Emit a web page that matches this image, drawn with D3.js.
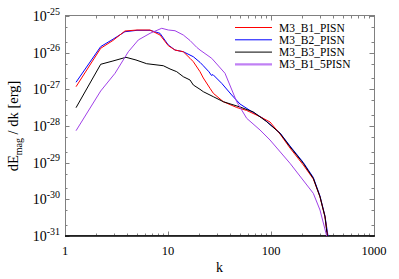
<!DOCTYPE html>
<html><head><meta charset="utf-8">
<script src="https://cdn.jsdelivr.net/npm/d3@7"></script>
<style>body{margin:0;background:#fff}svg{display:block}</style>
</head><body>
<svg id="c" width="399" height="279"></svg>
<script>
// ---- data ----
const seriesNames = ["M3_B1_PISN", "M3_B2_PISN", "M3_B3_PISN", "M3_B1_5PISN"];
const seriesColors = ["#ff0000", "#0000ff", "#000000", "#a040e8"];

const kB1 = [1.28, 2.22, 2.92, 3.82, 5.0, 6.69, 8.36, 10.07, 11.69, 14.08, 16.35, 17.61, 20.45, 22.02, 25.57, 27.54, 34.42, 46.45, 58.08, 78.2, 97.8, 122.3, 152.9, 205.9, 257.5, 299.0, 334.4, 353.6, 358];
const eB1 = [1.18e-27, 1.315e-26, 2.15e-26, 3.90e-26, 4.15e-26, 4.15e-26, 3.03e-26, 1.55e-26, 1.18e-26, 1.06e-26, 7.02e-27, 5.67e-27, 3.03e-27, 2.04e-27, 1.067e-27, 7.80e-28, 4.60e-28, 3.20e-28, 2.65e-28, 1.795e-28, 1.286e-28, 6.05e-29, 2.51e-29, 8.65e-30, 3.59e-30, 1.16e-30, 3.30e-31, 1.0e-31, 6e-32];

const kB2 = [1.28, 2.22, 2.92, 3.82, 5.0, 6.69, 8.36, 10.07, 11.69, 14.08, 17.61, 20.45, 22.02, 25.0, 26.4, 27.35, 33.21, 41.53, 50.0, 62.54, 83.6, 122.3, 152.9, 205.9, 257.5, 299.0, 334.4, 357.6, 362];
const eB2 = [1.56e-27, 1.46e-26, 2.32e-26, 3.73e-26, 4.07e-26, 4.07e-26, 3.37e-26, 1.62e-26, 1.18e-26, 1.06e-26, 7.76e-27, 5.45e-27, 4.4e-27, 3.0e-27, 2.4e-27, 2.52e-27, 1.46e-27, 7.01e-28, 3.98e-28, 2.65e-28, 1.62e-28, 6.45e-29, 2.85e-29, 1.01e-29, 3.94e-30, 1.23e-30, 3.52e-31, 1.0e-31, 6e-32];

const kB3 = [1.28, 2.22, 2.92, 3.91, 4.89, 6.21, 9.00, 10.46, 12.15, 14.08, 16.35, 17.61, 20.45, 22.02, 27.54, 34.42, 50.0, 67.33, 90.84, 122.3, 152.9, 205.9, 257.5, 299.0, 334.4, 352.1, 357];
const eB3 = [3.16e-28, 4.82e-27, 5.93e-27, 7.47e-27, 6.31e-27, 5.00e-27, 4.41e-27, 3.59e-27, 3.03e-27, 2.21e-27, 1.80e-27, 1.313e-27, 1.0e-27, 8.62e-28, 6.30e-28, 4.60e-28, 3.30e-28, 2.41e-28, 1.31e-28, 6.33e-29, 2.73e-29, 9.62e-30, 3.75e-30, 1.18e-30, 3.36e-31, 1.0e-31, 6e-32];

const kB15 = [1.28, 2.22, 3.06, 4.12, 5.15, 6.69, 8.69, 10.07, 11.69, 14.08, 16.35, 18.99, 20.45, 26.57, 35.76, 46.45, 58.08, 78.2, 97.8, 152.9, 257.5, 299.0, 347.4, 352];
const eB15 = [7.45e-29, 9.01e-28, 2.74e-27, 1.06e-26, 2.22e-26, 3.37e-26, 4.62e-26, 4.15e-26, 3.97e-26, 3.03e-26, 2.15e-26, 1.4e-26, 1.18e-26, 7.02e-27, 2.74e-27, 4.60e-28, 1.62e-28, 7.78e-29, 4.15e-29, 9.62e-30, 1.46e-30, 5.12e-31, 1.0e-31, 6e-32];

const kSeries = [kB1, kB2, kB3, kB15];
const eSeries = [eB1, eB2, eB3, eB15];

const xTickVals = [1, 10, 100, 1000];
const xTickLabels = ["1", "10", "100", "1000"];
const yTickExps = [-25, -26, -27, -28, -29, -30, -31];

// ---- layout ----
const L = 65, R = 374, T = 16, B = 236;
const svg = d3.select("#c");
const x = d3.scaleLog().domain([1, 1000]).range([L, R]);
const y = d3.scaleLog().domain([1e-31, 1e-25]).range([B, T]);
const serif = "'Liberation Serif','Times New Roman',serif";

svg.append("defs").append("clipPath").attr("id", "clip")
  .append("rect").attr("x", L).attr("y", T).attr("width", R - L).attr("height", B - T);

// ticks
const tg = svg.append("g").attr("stroke", "#808080").attr("stroke-width", 1);
const xMinor = [];
for (let d = 1; d < 1000; d *= 10) for (let m = 2; m <= 9; m++) xMinor.push(d * m);
xMinor.forEach(v => {
  const px = Math.round(x(v)) + 0.5;
  tg.append("line").attr("x1", px).attr("x2", px).attr("y1", B).attr("y2", B - 2.5);
  tg.append("line").attr("x1", px).attr("x2", px).attr("y1", T).attr("y2", T + 2.5);
});
xTickVals.forEach(v => {
  const px = Math.round(x(v)) + 0.5;
  tg.append("line").attr("x1", px).attr("x2", px).attr("y1", B).attr("y2", B - 4.5);
  tg.append("line").attr("x1", px).attr("x2", px).attr("y1", T).attr("y2", T + 4.5);
});
const yMinor = [];
yTickExps.forEach(e => { if (e < -25) { yMinor.push(2 * Math.pow(10, e)); yMinor.push(5 * Math.pow(10, e)); } });
yMinor.forEach(v => {
  const py = Math.round(y(v)) + 0.5;
  tg.append("line").attr("x1", L).attr("x2", L + 2.5).attr("y1", py).attr("y2", py);
  tg.append("line").attr("x1", R).attr("x2", R - 2.5).attr("y1", py).attr("y2", py);
});
yTickExps.forEach(e => {
  const py = Math.round(y(Math.pow(10, e))) + 0.5;
  tg.append("line").attr("x1", L).attr("x2", L + 4.5).attr("y1", py).attr("y2", py);
  tg.append("line").attr("x1", R).attr("x2", R - 4.5).attr("y1", py).attr("y2", py);
});

// frame
svg.append("rect").attr("x", L + 0.5).attr("y", T - 0.5).attr("width", R - L).attr("height", B - T)
  .attr("fill", "none").attr("stroke", "#808080").attr("stroke-width", 1);
svg.append("line").attr("x1", L).attr("x2", R + 1).attr("y1", B).attr("y2", B)
  .attr("stroke", "#000").attr("stroke-width", 1.6);

// series
const line = d3.line().x(d => x(d[0])).y(d => y(d[1]));
const pg = svg.append("g").attr("clip-path", "url(#clip)");
[1, 0, 2, 3].forEach(i => {
  const pts = kSeries[i].map((k, j) => [k, eSeries[i][j]]);
  pg.append("path").attr("d", line(pts)).attr("fill", "none")
    .attr("stroke", seriesColors[i]).attr("stroke-width", 1).attr("stroke-linejoin", "round");
});

// x tick labels
xTickVals.forEach((v, i) => {
  svg.append("text").attr("x", x(v)).attr("y", 254.5).attr("text-anchor", "middle")
    .attr("font-family", serif).attr("font-size", 12.5).attr("fill", "#000").text(xTickLabels[i]);
});
// y tick labels
yTickExps.forEach(e => {
  const t = svg.append("text").attr("x", 60).attr("y", y(Math.pow(10, e)) + 5)
    .attr("text-anchor", "end").attr("font-family", serif).attr("font-size", 14).attr("fill", "#000");
  t.append("tspan").text("10");
  t.append("tspan").attr("dy", -6.5).attr("font-size", 10).text(String(e));
});

// axis titles
svg.append("text").attr("x", (L + R) / 2).attr("y", 272).attr("text-anchor", "middle")
  .attr("font-family", serif).attr("font-size", 14).text("k");
const yt = svg.append("text").attr("transform", `translate(18,${(T + B) / 2}) rotate(-90)`)
  .attr("text-anchor", "middle").attr("font-family", serif).attr("font-size", 14.5);
yt.append("tspan").text("dE");
yt.append("tspan").attr("dy", 3.5).attr("font-size", 10).text("mag");
yt.append("tspan").attr("dy", -3.5).text(" / dk [erg]");

// legend
const legY0 = 27.5, legDy = 12.3;
seriesNames.forEach((n, i) => {
  const yy = legY0 + i * legDy;
  svg.append("line").attr("x1", 235).attr("x2", 272).attr("y1", yy).attr("y2", yy)
    .attr("stroke", i === 3 ? "#c080f4" : seriesColors[i]).attr("stroke-width", i === 3 ? 2.2 : 1);
  svg.append("text").attr("x", 279).attr("y", yy + 4).attr("font-family", serif)
    .attr("font-size", 11.5).attr("fill", "#000").text(n);
});
</script>
</body></html>
